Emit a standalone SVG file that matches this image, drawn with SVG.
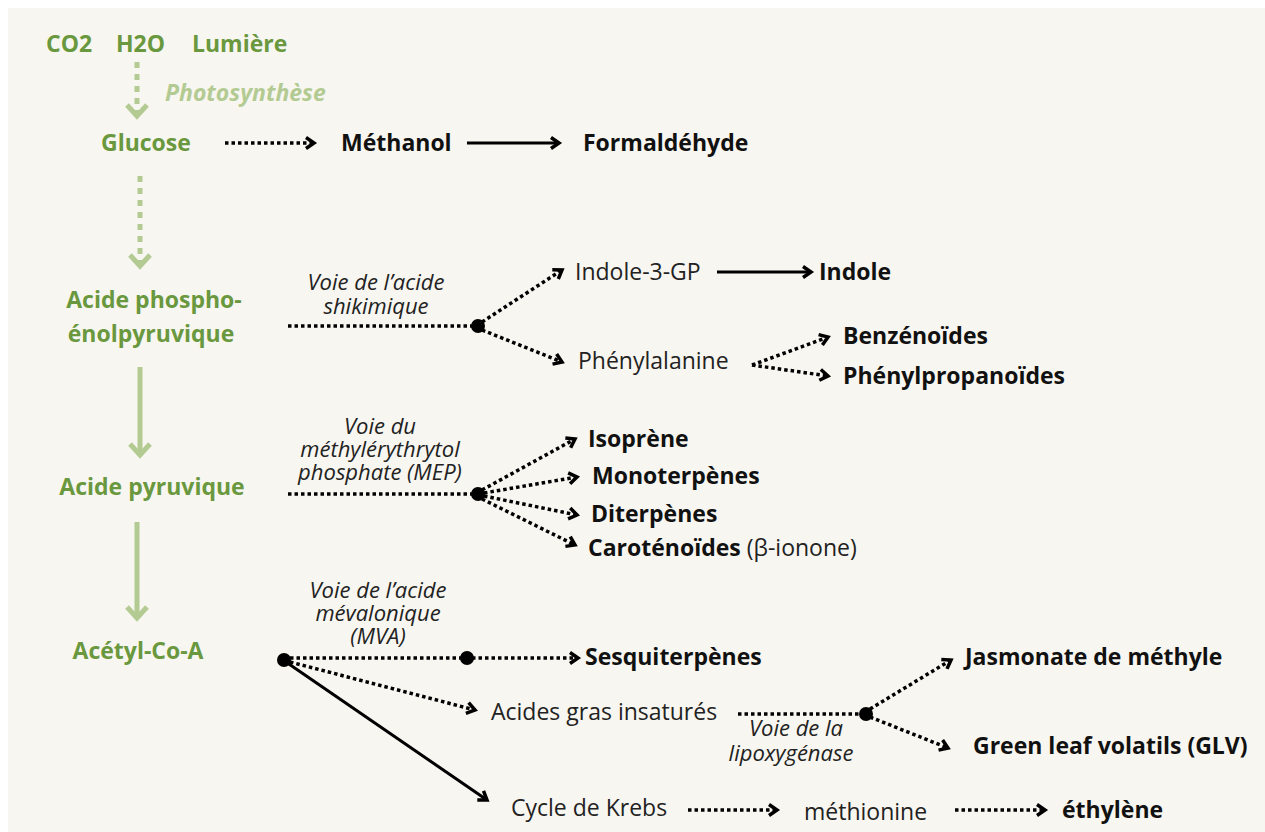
<svg xmlns="http://www.w3.org/2000/svg" width="1265" height="832" viewBox="0 0 1265 832">
<style>
text{font-family:"Open Sans","Noto Sans","Liberation Sans",sans-serif;font-size:23px;fill:#111}
.g{fill:#6a983e;font-weight:bold}
.b{font-weight:bold}
.n{fill:#222}
.i{font-style:italic;font-size:22px;fill:#222}
.ph{fill:#b3cb93;font-weight:bold;font-style:italic;font-size:23px}
.dot{stroke:#000;stroke-width:3.5;stroke-dasharray:3.5 3;fill:none;marker-end:url(#ch)}
.dotn{stroke:#000;stroke-width:3.5;stroke-dasharray:3.5 3;fill:none}
.sol{stroke:#000;stroke-width:3;fill:none;marker-end:url(#ch)}
.lgd{stroke:#b3cb93;stroke-width:5;stroke-dasharray:6 6;fill:none;marker-end:url(#lch)}
.lgs{stroke:#b3cb93;stroke-width:5;fill:none;marker-end:url(#lch)}
</style>
<defs>
<marker id="ch" markerUnits="userSpaceOnUse" viewBox="0 0 16 16" refX="12" refY="8" markerWidth="16" markerHeight="16" orient="auto">
<path d="M4,2.5 L12,8 L4,13.5" fill="none" stroke="#000" stroke-width="3.5"/>
</marker>
<marker id="lch" markerUnits="userSpaceOnUse" viewBox="0 0 20 26" refX="14" refY="13" markerWidth="20" markerHeight="26" orient="auto">
<path d="M3,3 L14,13 L3,23" fill="none" stroke="#b3cb93" stroke-width="5"/>
</marker>
</defs>
<rect x="0" y="0" width="1265" height="832" fill="#fff"/>
<rect x="8" y="8" width="1257" height="824" fill="#f8f6f0"/>

<g id="connectors">
<path class="lgd" d="M137,62 V116"/>
<path class="dot" d="M225,143 H314"/>
<path class="sol" d="M467,143 H559"/>
<path class="lgd" d="M140,176 V266"/>
<path class="lgs" d="M140,367 V455"/>
<path class="lgs" d="M137,522 V618"/>
<path class="dotn" d="M288,326 H472"/>
<path class="dot" d="M482,322 L562,270"/>
<path class="dot" d="M482,330 L562,362"/>
<path class="sol" d="M717,272 H811"/>
<path class="dot" d="M752,365 L828,337"/>
<path class="dot" d="M752,365 L828,376"/>
<path class="dotn" d="M288,494 H472"/>
<path class="dot" d="M482,490 L575,439"/>
<path class="dot" d="M484,493 L577,477"/>
<path class="dot" d="M484,496 L577,515"/>
<path class="dot" d="M482,499 L575,545"/>
<path class="dotn" d="M290,658 H462"/>
<path class="dot" d="M472,658 H578"/>
<path class="dot" d="M290,662 L475,710"/>
<path class="sol" d="M286,662 L487,800"/>
<path class="dot" d="M688,810 H777"/>
<path class="dot" d="M955,810 H1045"/>
<path class="dotn" d="M738,714 H860"/>
<path class="dot" d="M870,709 L951,660"/>
<path class="dot" d="M870,717 L948,748"/>
</g>

<g id="dots">
<circle cx="478" cy="326" r="7" fill="#000"/>
<circle cx="478" cy="494" r="7" fill="#000"/>
<circle cx="284" cy="660" r="7" fill="#000"/>
<circle cx="467" cy="658" r="7" fill="#000"/>
<circle cx="866" cy="714" r="7" fill="#000"/>
</g>

<g id="inputs">
<text class="g" x="46" y="52">CO2</text>
<text class="g" x="116" y="52">H2O</text>
<text class="g" x="192" y="52">Lumière</text>
</g>
<g id="photosynthese"><text class="ph" x="165" y="101">Photosynthèse</text></g>
<g id="glucose"><text class="g" x="101" y="151">Glucose</text></g>
<g id="methanol"><text class="b" x="341" y="151">Méthanol</text></g>
<g id="formaldehyde"><text class="b" x="583" y="151">Formaldéhyde</text></g>
<g id="pep">
<text class="g" x="154" y="308" text-anchor="middle">Acide phospho-</text>
<text class="g" x="151" y="342" text-anchor="middle">énolpyruvique</text>
</g>
<g id="pyruvique"><text class="g" x="152" y="495" text-anchor="middle">Acide pyruvique</text></g>
<g id="acetyl"><text class="g" x="138" y="659" text-anchor="middle">Acétyl-Co-A</text></g>

<g id="shikimique">
<text class="i" x="376" y="290" text-anchor="middle">Voie de l’acide</text>
<text class="i" x="376" y="314" text-anchor="middle">shikimique</text>
</g>
<g id="indole3gp"><text class="n" x="575" y="280">Indole-3-GP</text></g>
<g id="indole"><text class="b" x="819" y="280">Indole</text></g>
<g id="phenylalanine"><text class="n" x="578" y="369">Phénylalanine</text></g>
<g id="benzenoides"><text class="b" x="843" y="344">Benzénoïdes</text></g>
<g id="phenylpropanoides"><text class="b" x="843" y="384">Phénylpropanoïdes</text></g>

<g id="mep">
<text class="i" x="380" y="434" text-anchor="middle">Voie du</text>
<text class="i" x="380" y="457" text-anchor="middle">méthylérythrytol</text>
<text class="i" x="380" y="480" text-anchor="middle">phosphate (MEP)</text>
</g>
<g id="isoprene"><text class="b" x="588" y="447">Isoprène</text></g>
<g id="monoterpenes"><text class="b" x="592" y="484">Monoterpènes</text></g>
<g id="diterpenes"><text class="b" x="591" y="522">Diterpènes</text></g>
<g id="carotenoides"><text x="588" y="556"><tspan class="b">Caroténoïdes</tspan><tspan class="n"> (β-ionone)</tspan></text></g>

<g id="mva">
<text class="i" x="378" y="598" text-anchor="middle">Voie de l’acide</text>
<text class="i" x="378" y="621" text-anchor="middle">mévalonique</text>
<text class="i" x="378" y="644" text-anchor="middle">(MVA)</text>
</g>
<g id="sesquiterpenes"><text class="b" x="585" y="665">Sesquiterpènes</text></g>
<g id="acidesgras"><text class="n" x="491" y="720">Acides gras insaturés</text></g>
<g id="lipoxygenase">
<text class="i" x="796" y="736" text-anchor="middle">Voie de la</text>
<text class="i" x="791" y="761" text-anchor="middle">lipoxygénase</text>
</g>
<g id="jasmonate"><text class="b" x="965" y="665">Jasmonate de méthyle</text></g>
<g id="glv"><text class="b" x="973" y="754">Green leaf volatils (GLV)</text></g>
<g id="krebs"><text class="n" x="511" y="816">Cycle de Krebs</text></g>
<g id="methionine"><text class="n" x="804" y="820">méthionine</text></g>
<g id="ethylene"><text class="b" x="1062" y="818">éthylène</text></g>
</svg>
